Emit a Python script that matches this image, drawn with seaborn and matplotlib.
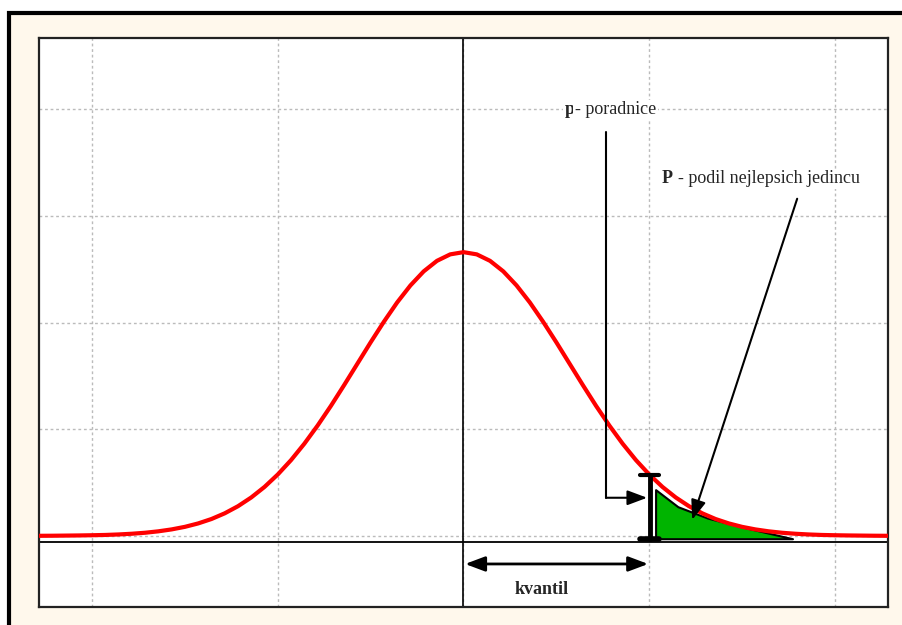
import numpy as np
import pandas as pd
import seaborn as sns
import matplotlib.pyplot as plt
from matplotlib.patches import Rectangle

# Data
curve_x = [-4.0, -3.875, -3.75, -3.625, -3.5, -3.375, -3.25, -3.125, -3.0, -2.875, -2.75, -2.625,
           -2.5, -2.375, -2.25, -2.125, -2.0, -1.875, -1.75, -1.625, -1.5, -1.375, -1.25, -1.125,
           -1.0, -0.875, -0.75, -0.625, -0.5, -0.375, -0.25, -0.125, 0.0,
           0.125, 0.25, 0.375, 0.5, 0.625, 0.75, 0.875, 1.0, 1.125, 1.25, 1.375, 1.5,
           1.625, 1.75, 1.875, 2.0, 2.125, 2.25, 2.375, 2.5, 2.625, 2.75, 2.875, 3.0,
           3.125, 3.25, 3.375, 3.5, 3.625, 3.75, 3.875, 4.0]
curve_y = [0.0001, 0.0002, 0.0004, 0.0006, 0.0009, 0.0013, 0.0020, 0.0030, 0.0044, 0.0064, 0.0091, 0.0127,
           0.0175, 0.0237, 0.0317, 0.0417, 0.0540, 0.0688, 0.0863, 0.1065, 0.1295, 0.1550, 0.1826, 0.2119,
           0.2420, 0.2721, 0.3011, 0.3282, 0.3521, 0.3719, 0.3867, 0.3958, 0.3989,
           0.3958, 0.3867, 0.3719, 0.3521, 0.3282, 0.3011, 0.2721, 0.2420, 0.2119, 0.1826, 0.1550, 0.1295,
           0.1065, 0.0863, 0.0688, 0.0540, 0.0417, 0.0317, 0.0237, 0.0175, 0.0127, 0.0091, 0.0064, 0.0044,
           0.0030, 0.0020, 0.0013, 0.0009, 0.0006, 0.0004, 0.0002, 0.0001]

tail_x = [1.81, 2.02, 2.3, 2.67, 3.1]
tail_top = [0.065, 0.041, 0.025, 0.011, -0.004]
tail_bottom = -0.004

quantile = 1.755
ordinate = 0.085
baseline = -0.008

x_grid = [-3.5, -1.75, 0, 1.75, 3.5]
y_grid = [0, 0.15, 0.3, 0.45, 0.6]

df = pd.DataFrame({'x': curve_x, 'y': curve_y})

sns.set_style("white")
plt.rcParams['font.family'] = ['Liberation Serif', 'DejaVu Serif']

fig = plt.figure(figsize=(9.02, 6.25), dpi=100)
fig.patch.set_facecolor('white')
# cream frame around the plot
fig.patches.append(Rectangle((0.0105, -0.1), 1.5, 1.079, transform=fig.transFigure,
                             facecolor='#FFF8EC', edgecolor='black', linewidth=3, zorder=-10))

ax = fig.add_axes([0.0432, 0.0288, 0.9413, 0.9104])
ax.set_zorder(5)
ax.set_facecolor('white')
ax.set_xlim(-4, 4)
ax.set_ylim(-0.1, 0.7)
ax.set_xticks(x_grid)
ax.set_yticks(y_grid)
ax.set_xticklabels([])
ax.set_yticklabels([])
ax.tick_params(length=0)
ax.grid(True, color='#bbbbbb', linestyle=(0, (2, 2)), linewidth=1)
for s in ax.spines.values():
    s.set_visible(True)
    s.set_color('#222222')
    s.set_linewidth(1.6)

# axes of the distribution
ax.axhline(baseline, color='black', linewidth=1.3, zorder=2)
ax.axvline(0, color='black', linewidth=1.2, zorder=2)

# green tail
ax.fill_between(tail_x, tail_bottom, tail_top, facecolor='#00B400', edgecolor='black',
                linewidth=1.5, zorder=3)

# density curve
sns.lineplot(data=df, x='x', y='y', color='red', linewidth=3, ax=ax, zorder=4)
ax.set_xlabel('')
ax.set_ylabel('')

# ordinate marker (I-beam)
ax.plot([quantile, quantile], [tail_bottom, ordinate], color='black', linewidth=3.5, zorder=5)
ax.plot([quantile - 0.09, quantile + 0.09], [ordinate, ordinate], color='black', linewidth=3, zorder=5)
ax.plot([quantile - 0.09, quantile + 0.09], [tail_bottom, tail_bottom], color='black', linewidth=4, zorder=5)

# labels
fs = 13
ax.text(1.045, 0.599, 'p', fontsize=fs, fontweight='bold', ha='right', va='center', zorder=6,
        bbox=dict(facecolor='white', edgecolor='none', pad=1))
ax.text(1.05, 0.599, '- poradnice', fontsize=fs, ha='left', va='center', zorder=6,
        bbox=dict(facecolor='white', edgecolor='none', pad=1))
ax.text(1.97, 0.502, 'P', fontsize=fs, fontweight='bold', ha='right', va='center', zorder=6,
        bbox=dict(facecolor='white', edgecolor='none', pad=1))
ax.text(2.02, 0.502, '- podil nejlepsich jedincu', fontsize=fs, ha='left', va='center', zorder=6,
        bbox=dict(facecolor='white', edgecolor='none', pad=1))
ax.text(0.741, -0.076, 'kvantil', fontsize=fs, fontweight='bold', ha='center', va='center', zorder=6)

# arrow for p
ax.plot([1.344, 1.344], [0.568, 0.0536], color='black', linewidth=1.5, zorder=6)
ax.annotate('', xy=(1.73, 0.0536), xytext=(1.344, 0.0536), zorder=6,
            arrowprops=dict(arrowstyle='-|>,head_length=1.2,head_width=0.45', color='black',
                            lw=1.5, shrinkA=0, shrinkB=0))
# arrow for P
ax.annotate('', xy=(2.155, 0.0226), xytext=(3.144, 0.474), zorder=6,
            arrowprops=dict(arrowstyle='-|>,head_length=1.2,head_width=0.45', color='black',
                            lw=1.5, shrinkA=0, shrinkB=0))
# kvantil double arrow
ax.annotate('', xy=(1.74, -0.0395), xytext=(0.015, -0.0395), zorder=6,
            arrowprops=dict(arrowstyle='<|-|>,head_length=1.2,head_width=0.45', color='black',
                            lw=2, shrinkA=0, shrinkB=0))

plt.savefig('out.png', dpi=100, facecolor=fig.get_facecolor())
